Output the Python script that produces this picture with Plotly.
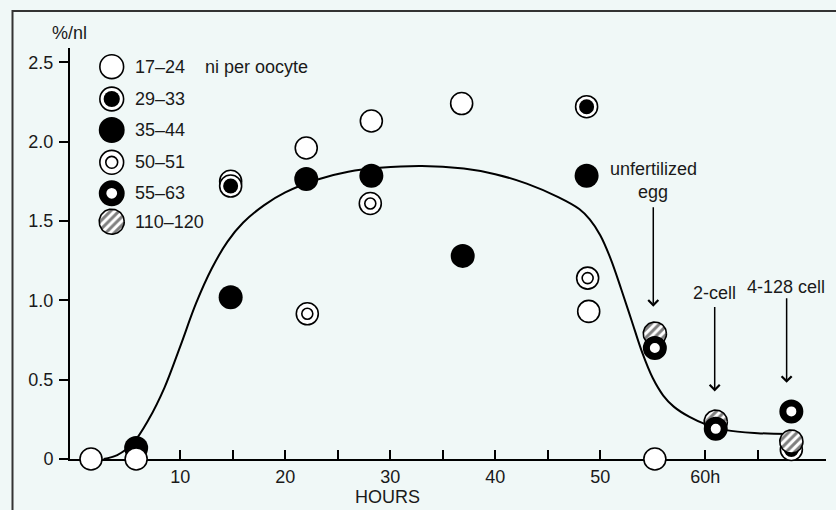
import numpy as np
import plotly.graph_objects as go

# ---- measurements: %/nl against hours, grouped by ni per oocyte ----
hours_17_24 = [1.5, 5.8, 22.0, 28.2, 36.8, 48.9, 55.2]
vals_17_24 = [0.0, 0.0, 1.96, 2.13, 2.24, 0.93, 0.0]

hours_29_33 = [14.8, 48.7, 68.2]
vals_29_33 = [1.72, 2.22, 0.06]

hours_35_44 = [5.8, 14.8, 22.0, 28.2, 36.9, 48.7]
vals_35_44 = [0.07, 1.02, 1.765, 1.785, 1.28, 1.785]

hours_50_51 = [14.8, 22.1, 28.1, 48.8]
vals_50_51 = [1.75, 0.915, 1.61, 1.14]

hours_55_63 = [55.2, 61.0, 68.2]
vals_55_63 = [0.70, 0.19, 0.30]

hours_110_120 = [55.2, 61.0, 68.2]
vals_110_120 = [0.79, 0.235, 0.11]

# hand-drawn trend curve
fit_hours = [2.7, 4.0, 5.5, 7.0, 8.5, 10.0, 11.5, 13.0, 14.5, 16.0, 18.0, 20.0,
             23.0, 26.0, 29.0, 33.0, 37.0, 40.0, 43.0, 46.0, 48.0, 49.0, 50.0,
             51.0, 52.0, 53.0, 54.0, 55.0, 56.0, 57.0, 58.5, 60.0, 62.0, 65.0, 68.0]
fit_vals = [0.0, 0.025, 0.10, 0.25, 0.45, 0.71, 0.98, 1.20, 1.37, 1.49, 1.60, 1.68,
            1.76, 1.81, 1.835, 1.847, 1.83, 1.795, 1.735, 1.65, 1.575, 1.51, 1.41,
            1.26, 1.07, 0.87, 0.67, 0.51, 0.40, 0.33, 0.265, 0.22, 0.182, 0.163, 0.157]

group_labels = ["17–24", "29–33", "35–44", "50–51", "55–63", "110–120"]
group_styles = ["open", "dot", "solid", "double", "ring", "hatch"]

x_ticks = [5, 10, 15, 20, 25, 30, 35, 40, 45, 50, 55, 60, 65]
x_tick_labels = ["", "10", "", "20", "", "30", "", "40", "", "50", "", "60h", ""]
y_ticks = [0, 0.5, 1.0, 1.5, 2.0, 2.5]
y_tick_labels = ["0", "0.5", "1.0", "1.5", "2.0", "2.5"]

# ---- layout geometry ----
W, H = 836, 510
ML, MR, MT, MB = 70, 10, 48, 51
PW, PH = W - ML - MR, H - MT - MB
X_RANGE = [-0.5, 71.5]
Y_RANGE = [0, 2.59]
FONT = "Arial, Liberation Sans, sans-serif"
INK = "#1a1a1a"
BG = "#f0f8f7"
R_PX = 11.6  # marker radius in pixels

fig = go.Figure()


def add_points(xs, ys, style, xa="x", ya="y", scale=1.0):
    base = dict(mode="markers", hoverinfo="skip", showlegend=False,
                cliponaxis=False, xaxis=xa, yaxis=ya)
    s = scale
    if style == "open":
        fig.add_trace(go.Scatter(x=xs, y=ys, marker=dict(
            size=22 * s, color="white", line=dict(color="black", width=1.6)), **base))
    elif style == "dot":
        fig.add_trace(go.Scatter(x=xs, y=ys, marker=dict(
            size=22 * s, color="white", line=dict(color="black", width=1.6)), **base))
        fig.add_trace(go.Scatter(x=xs, y=ys, marker=dict(
            size=15 * s, color="black", line=dict(width=0)), **base))
    elif style == "solid":
        fig.add_trace(go.Scatter(x=xs, y=ys, marker=dict(
            size=24 * s, color="black", line=dict(width=0)), **base))
    elif style == "double":
        fig.add_trace(go.Scatter(x=xs, y=ys, marker=dict(
            size=22 * s, color="white", line=dict(color="black", width=1.6)), **base))
        fig.add_trace(go.Scatter(x=xs, y=ys, marker=dict(
            size=11 * s, color="white", line=dict(color="black", width=1.6)), **base))
    elif style == "ring":
        fig.add_trace(go.Scatter(x=xs, y=ys, marker=dict(
            size=17 * s, color="white", line=dict(color="black", width=7 * s)), **base))
    elif style == "hatch":
        # hatched discs drawn as filled outlines sized in screen pixels
        if xa == "x":
            ux = R_PX * s * (X_RANGE[1] - X_RANGE[0]) / PW
            uy = R_PX * s * (Y_RANGE[1] - Y_RANGE[0]) / PH
        else:
            ux = R_PX * s / PW
            uy = R_PX * s / PH
        t = np.linspace(0, 2 * np.pi, 73)
        for cx, cy in zip(xs, ys):
            fig.add_trace(go.Scatter(
                x=cx + ux * np.cos(t), y=cy + uy * np.sin(t),
                mode="lines", fill="toself", fillcolor="white",
                fillpattern=dict(shape="/", fgcolor="black", bgcolor="white",
                                 size=6, solidity=0.5),
                line=dict(color="black", width=1.6),
                hoverinfo="skip", showlegend=False, xaxis=xa, yaxis=ya))


# trend curve behind the points
fig.add_trace(go.Scatter(x=fit_hours, y=fit_vals, mode="lines",
                         line=dict(color="black", width=2, shape="spline", smoothing=1.0),
                         hoverinfo="skip", showlegend=False))

# points, stacked in drawing order
add_points(hours_50_51, vals_50_51, "double")
add_points(hours_35_44, vals_35_44, "solid")
add_points(hours_17_24, vals_17_24, "open")
add_points(hours_29_33, vals_29_33, "dot")
add_points(hours_110_120, vals_110_120, "hatch")
add_points(hours_55_63, vals_55_63, "ring")

# key (on an overlay axis spanning the plot area, 0..1)
key_x = 0.0552
key_y = [0.9545, 0.8759, 0.8005, 0.7219, 0.6465, 0.5774]
for ky, style in zip(key_y, group_styles):
    add_points([key_x], [ky], style, xa="x2", ya="y2", scale=1.08)

annotations = []
for ky, lab in zip(key_y, group_labels):
    annotations.append(dict(x=0.0833, y=ky, xref="paper", yref="paper", text=lab,
                            xanchor="left", yanchor="middle", showarrow=False))
annotations.append(dict(x=0.1759, y=0.9545, xref="paper", yref="paper",
                        text="ni per oocyte", xanchor="left", yanchor="middle",
                        showarrow=False))
annotations.append(dict(x=-0.001, y=1.0365, xref="paper", yref="paper", text="%/nl",
                        xanchor="center", yanchor="middle", showarrow=False))
annotations.append(dict(x=0.4206, y=-0.092, xref="paper", yref="paper", text="HOURS",
                        xanchor="center", yanchor="middle", showarrow=False))

# stage labels with arrows
stage_text = [("unfertilized", 0.7712, 0.7056), ("egg", 0.7712, 0.6496),
              ("2-cell", 0.8519, 0.4032), ("4-128 cell", 0.9471, 0.4192)]
for txt, tx, ty in stage_text:
    annotations.append(dict(x=tx, y=ty, xref="paper", yref="paper", text=txt,
                            xanchor="center", yanchor="middle", showarrow=False))

arrow_heads = [(55.05, 0.96, -100), (60.9, 0.426, -85), (67.75, 0.48, -85)]
for hx, hy, off in arrow_heads:
    annotations.append(dict(x=hx, y=hy, xref="x", yref="y", text="", showarrow=True,
                            ax=0, ay=off, arrowhead=4, arrowsize=1.3, arrowwidth=1.5,
                            arrowcolor="black", standoff=0, borderpad=0))

fig.update_layout(
    width=W, height=H,
    margin=dict(l=ML, r=MR, t=MT, b=MB, pad=0),
    paper_bgcolor=BG, plot_bgcolor=BG,
    font=dict(family=FONT, size=18, color=INK),
    showlegend=False,
    annotations=annotations,
    shapes=[dict(type="rect", xref="paper", yref="paper",
                 x0=(12.5 - ML) / PW, x1=1.3, y0=-0.4, y1=(PH + MT - 11) / PH,
                 line=dict(color="#333333", width=2), layer="below")],
    xaxis=dict(range=X_RANGE, showgrid=False, zeroline=False, showline=True,
               linecolor="black", linewidth=2, ticks="inside", ticklen=9,
               tickwidth=2, tickcolor="black", tickvals=x_ticks,
               ticktext=x_tick_labels, layer="below traces",
               tickfont=dict(size=18, color=INK)),
    yaxis=dict(range=Y_RANGE, showgrid=False, zeroline=False, showline=True,
               linecolor="black", linewidth=2, ticks="outside", ticklen=9,
               tickwidth=2, tickcolor="black", tickvals=y_ticks,
               ticktext=y_tick_labels, layer="below traces",
               tickfont=dict(size=18, color=INK), ticklabelstandoff=2),
    xaxis2=dict(overlaying="x", range=[0, 1], visible=False),
    yaxis2=dict(overlaying="y", range=[0, 1], visible=False),
)

fig.write_html("out.html")
